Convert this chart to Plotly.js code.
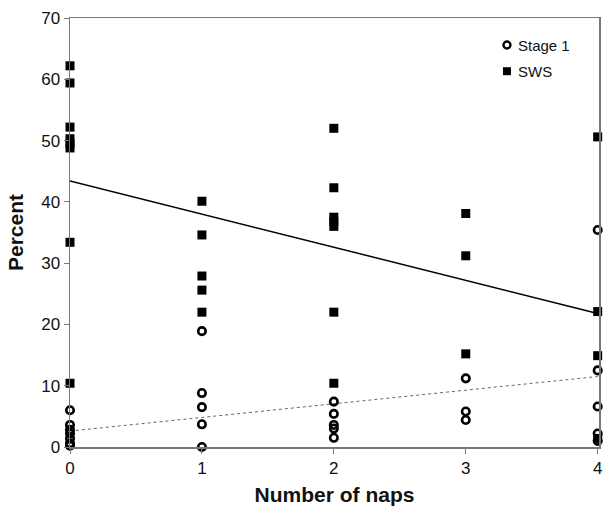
<!DOCTYPE html>
<html>
<head>
<meta charset="utf-8">
<script src="https://cdn.plot.ly/plotly-3.0.1.min.js"></script>
<style>html,body{margin:0;padding:0;background:#fff;}#chart{width:608px;height:506px;}</style>
</head>
<body>
<div id="chart"></div>
<script>
// Number of naps (x) for each observation
var swsNaps   = [0,0,0,0,0,0,0,0, 1,1,1,1,1, 2,2,2,2,2,2,2, 3,3,3, 4,4,4,4];
var swsPct    = [62.2,59.4,52.2,50.3,49.5,48.8,33.4,10.4, 40.1,34.6,27.9,25.6,22.0, 52.0,42.3,37.5,36.8,36.0,22.0,10.4, 38.1,31.2,15.2, 50.6,22.1,14.9,1.4];
var stage1Naps = [0,0,0,0,0,0,0, 1,1,1,1,1, 2,2,2,2,2, 3,3,3, 4,4,4,4,4];
var stage1Pct  = [6.0,3.6,2.8,2.2,1.4,0.6,0.2, 18.9,8.8,6.5,3.7,0.0, 7.4,5.4,3.6,3.0,1.5, 11.2,5.8,4.4, 35.4,12.5,6.6,2.2,1.0];
// Regression fits (endpoints at 0 and 4 naps)
var fitX = [0, 4];
var swsFit = [43.4, 21.8];
var stage1Fit = [2.6, 11.5];
var xTicks = [0,1,2,3,4];
var yTicks = [0,10,20,30,40,50,60,70];
var legendNames = ['Stage 1', 'SWS'];

var fontFam = 'Liberation Sans, Arial, sans-serif';
var circleMarker = {symbol: 'circle-open', size: 7.5, color: '#000', line: {color: '#000', width: 2.6}};
var squareMarker = {symbol: 'square', size: 9, color: '#000'};

var traces = [
  {x: fitX, y: swsFit, mode: 'lines', line: {color: '#000', width: 1.5}, showlegend: false, hoverinfo: 'skip'},
  {x: fitX, y: stage1Fit, mode: 'lines', line: {color: '#666', width: 1, dash: 'dot'}, showlegend: false, hoverinfo: 'skip'},
  {x: stage1Naps, y: stage1Pct, mode: 'markers', name: legendNames[0], cliponaxis: false, showlegend: false, marker: circleMarker},
  {x: swsNaps, y: swsPct, mode: 'markers', name: legendNames[1], cliponaxis: false, showlegend: false, marker: squareMarker},
  // legend key symbols on an overlay axis in fractional plot coordinates
  {x: [0.826], y: [0.937], xaxis: 'x2', yaxis: 'y2', mode: 'markers', showlegend: false, cliponaxis: false, marker: {symbol: 'circle-open', size: 7, color: '#000', line: {color: '#000', width: 2.4}}},
  {x: [0.826], y: [0.876], xaxis: 'x2', yaxis: 'y2', mode: 'markers', showlegend: false, cliponaxis: false, marker: {symbol: 'square', size: 8, color: '#000'}}
];

var axisFont = {family: fontFam, size: 17, color: '#111'};
var layout = {
  width: 608, height: 506,
  margin: {l: 70, r: 9, t: 18, b: 59},
  paper_bgcolor: '#fff', plot_bgcolor: '#fff',
  showlegend: false,
  xaxis: {range: [0, 4.01], tickvals: xTicks, ticktext: xTicks.map(String), ticks: 'outside', ticklen: 5,
          tickcolor: '#777', showline: true, linecolor: '#777', linewidth: 1.5, mirror: true,
          showgrid: false, zeroline: false, tickfont: axisFont,
          title: {text: '<b>Number of naps</b>', font: {family: fontFam, size: 21, color: '#111'}, standoff: 10}},
  yaxis: {range: [0, 70], tickvals: yTicks, ticktext: yTicks.map(String), ticks: 'outside', ticklen: 5,
          tickcolor: '#777', showline: true, linecolor: '#777', linewidth: 1.5, mirror: true,
          showgrid: false, zeroline: false, tickfont: axisFont,
          title: {text: '<b>Percent</b>', font: {family: fontFam, size: 21, color: '#111'}, standoff: 12}},
  xaxis2: {overlaying: 'x', range: [0, 1], visible: false, fixedrange: true},
  yaxis2: {overlaying: 'y', range: [0, 1], visible: false, fixedrange: true},
  annotations: [
    {xref: 'x2', yref: 'y2', x: 0.843, y: 0.937, text: legendNames[0], showarrow: false, xanchor: 'left', yanchor: 'middle', font: {family: fontFam, size: 15, color: '#111'}},
    {xref: 'x2', yref: 'y2', x: 0.843, y: 0.876, text: legendNames[1], showarrow: false, xanchor: 'left', yanchor: 'middle', font: {family: fontFam, size: 15, color: '#111'}}
  ]
};
Plotly.newPlot('chart', traces, layout, {displayModeBar: false, staticPlot: true});
</script>
</body>
</html>
